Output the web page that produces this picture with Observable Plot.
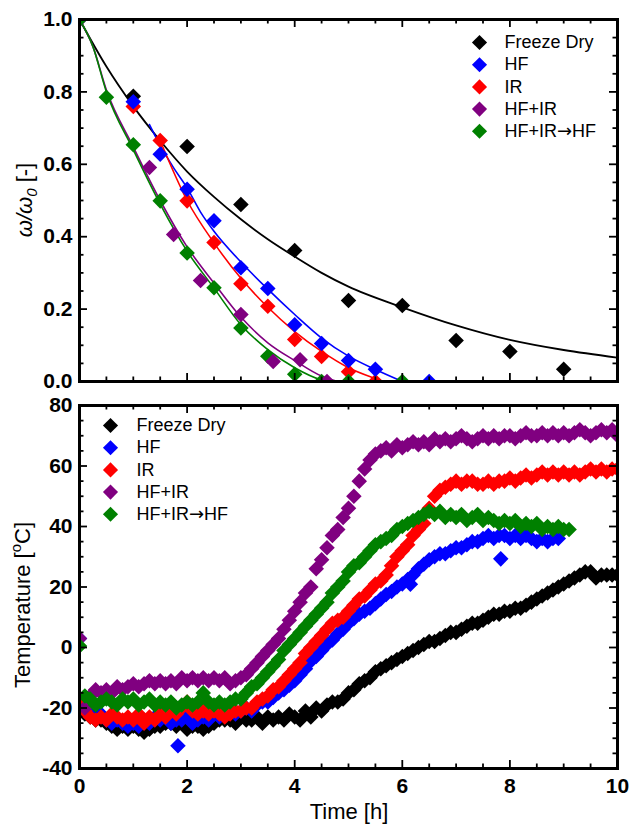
<!DOCTYPE html>
<html>
<head>
<meta charset="utf-8">
<script src="https://cdn.jsdelivr.net/npm/d3@7"></script>
<script src="https://cdn.jsdelivr.net/npm/@observablehq/plot@0.6"></script>
<style>
html, body { margin: 0; padding: 0; background: #fff; }
#chart { width: 631px; }
#chart svg { display: block; }
</style>
</head>
<body>
<div id="chart"></div>
<script>
// ---------- series names & colours ----------
const seriesNames = ["Freeze Dry", "HF", "IR", "HF+IR", "HF+IR\u2192HF"];
const seriesColors = ["#000000", "#0000ff", "#ff0000", "#800080", "#008000"];

// ---------- top panel: moisture ratio (measured points) ----------
const mrFreezeTime = [0, 1, 2, 3, 4, 5, 6, 7, 8, 9];
const mrFreeze = [1.0, 0.788, 0.649, 0.489, 0.362, 0.224, 0.21, 0.113, 0.083, 0.034];
const mrHFTime = [0, 1, 1.5, 2, 2.5, 3, 3.5, 4, 4.5, 5, 5.5, 6.5];
const mrHF = [1.0, 0.773, 0.628, 0.531, 0.444, 0.314, 0.257, 0.157, 0.105, 0.058, 0.034, 0.0];
const mrIRTime = [0, 1, 1.5, 2, 2.5, 3, 3.5, 4, 4.5, 5, 5.5];
const mrIR = [1.0, 0.76, 0.666, 0.499, 0.384, 0.27, 0.208, 0.116, 0.069, 0.027, 0.0];
const mrHFIRTime = [1.3, 1.75, 2.25, 3, 3.6, 4.1, 4.6];
const mrHFIR = [0.591, 0.406, 0.279, 0.185, 0.055, 0.06, 0.0];
const mrSeqTime = [0, 0.5, 1, 1.5, 2, 2.5, 3, 3.5, 4, 4.5, 5, 6];
const mrSeq = [1.0, 0.785, 0.654, 0.499, 0.355, 0.259, 0.148, 0.07, 0.02, 0.0, 0.0, 0.0];

// ---------- top panel: fitted curves ----------
const fitFreezeTime = [0, 0.5, 1, 1.5, 2, 2.5, 3, 3.5, 4, 4.5, 5, 6, 7, 8, 9, 10];
const fitFreeze = [1.0, 0.87, 0.76, 0.665, 0.58, 0.51, 0.448, 0.393, 0.345, 0.30, 0.262, 0.205, 0.155, 0.115, 0.087, 0.066];
const fitHFTime = [1.3, 1.5, 1.75, 2, 2.25, 2.5, 3, 3.5, 4, 4.5, 5, 5.5, 6];
const fitHF = [0.71, 0.652, 0.59, 0.535, 0.468, 0.415, 0.33, 0.255, 0.185, 0.12, 0.07, 0.033, 0.0];
const fitIRTime = [1.5, 2, 2.5, 3, 3.5, 4, 4.5, 5, 5.5, 5.65];
const fitIR = [0.665, 0.50, 0.383, 0.285, 0.205, 0.138, 0.083, 0.038, 0.008, 0.0];
const fitHFIRTime = [0, 0.25, 0.5, 1, 1.5, 2, 2.5, 3, 3.5, 4, 4.5, 4.8];
const fitHFIR = [1.0, 0.925, 0.805, 0.648, 0.50, 0.372, 0.272, 0.178, 0.107, 0.058, 0.015, 0.0];
const fitSeqTime = [0, 0.25, 0.5, 1, 1.5, 2, 2.5, 3, 3.5, 4, 4.5, 4.6];
const fitSeq = [1.0, 0.925, 0.80, 0.64, 0.49, 0.36, 0.258, 0.157, 0.088, 0.038, 0.004, 0.0];

// ---------- bottom panel: temperature ----------
const tempTime = [0,0.1,0.2,0.3,0.4,0.5,0.6,0.7,0.8,0.9,1,1.1,1.2,1.3,1.4,1.5,1.6,1.7,1.8,1.9,2,2.1,2.2,2.3,2.4,2.5,2.6,2.7,2.8,2.9,3,3.1,3.2,3.3,3.4,3.5,3.6,3.7,3.8,3.9,4,4.1,4.2,4.3,4.4,4.5,4.6,4.7,4.8,4.9,5,5.1,5.2,5.3,5.4,5.5,5.6,5.7,5.8,5.9,6,6.1,6.2,6.3,6.4,6.5,6.6,6.7,6.8,6.9,7,7.1,7.2,7.3,7.4,7.5,7.6,7.7,7.8,7.9,8,8.1,8.2,8.3,8.4,8.5,8.6,8.7,8.8,8.9,9,9.1,9.2,9.3,9.4,9.5,9.6,9.7,9.8,9.9,10];
const tempFreeze = [-19,-22,-23,-24,-24,-25,-26,-27,-26,-27,
 -26,-27,-28,-27,-26,-26,-25,-25,-26,-25,
 -27,-26,-26,-27,-26,-25,-24,-24,-24,-25,
 -23,-24,-24,-23,-25,-23,-24,-23,-24,-22,
 -23,-24,-21,-23,-20,-21,-19,-18,-18,-17,
 -15,-14,-12,-11,-10,-8,-7,-6,-5,-4,
 -3,-2,-1,0,1,2,2,3,4,5,
 5,6,7,8,8,9,10,11,11,12,
 12,13,13,14,15,16,17,18,19,20,
 21,22,23,24,25,25,23,24,24,24,
 24];
const tempHF = [3,-20,-22,-23,-22,-24,-25,-24,-25,-26,
 -25,-26,-24,-25,-23,-24,-23,-25,-24,-24,
 -23,-25,-24,-23,-24,-22,-23,-22,-21,-22,
 -21,-20,-21,-19,-18,-18,-16.5,-15,-14,-12.5,
 -11,-9,-7,-4.5,-3,-1,1,2.5,4.5,6,
 8,9.5,11,12,13,14.5,16,17.5,18.5,20,
 21,22.5,24,26,27.5,29,30,31,31,32,
 33,33,34,35,35,36,37,36,37,37,
 36,37,36,37,36,35,36,35,36,36];
const tempHFOutlierTime = [1.83, 6.15, 7.83];
const tempHFOutlier = [-32.5, 20.9, 29.3];
const tempIR = [-19,-21,-23,-24,-23,-24,-22,-23,-24,-23,
 -24,-22,-25,-23,-24,-22,-23,-21,-22,-20,
 -18,-21,-22,-21,-22,-21,-22,-23,-22,-21,
 -21,-20,-20,-18,-17,-16,-14,-13,-11,-9,
 -7,-5,-2,0,2,4,6,8,9,10,
 12,14,16,17,19,21,22,24,27,30,
 32,34,37,39,41,46,50,52,53,54,
 55,54,55,55,54,54,55,54,55,55,
 56,55,56,57,56,57,58,57,58,57,
 58,57,58,57,58,59,58,59,58,59,
 59];
const tempHFIR = [3,-20,-16,-14,-15,-14,-15,-13,-14,-13,
 -12,-13,-12,-11,-12,-11,-12,-11,-12,-10,
 -11,-10,-11,-10,-11,-10,-11,-10,-12,-11,
 -10,-9,-7,-5,-3,-1,1,3,6,9,
 12,15,18,20,26,29,33,37,39,43,
 46,50,55,59,62,64,65,66,65,67,
 66,67,68,67,68,67,69,68,69,68,
 69,70,69,68,69,70,69,70,69,70,
 70,69,70,71,70,70,71,70,71,70,
 71,70,71,72,71,70,71,72,71,72,
 70];
const tempSeq = [0.5,-16,-17,-19,-18,-17,-18,-19,-17,-18,
 -17,-19,-18,-17,-19,-18,-19,-18,-20,-19,
 -18,-19,-18,-15,-18,-19,-18,-19,-18,-17,
 -17,-15,-13,-12,-10,-8,-6,-4,-1,1,
 3,5,7,9,11,13,15,18,20,22,
 25,27,28,30,32,34,35,36,37,39,
 40,41,42,43,44,45,44,45,43,44,
 43,44,42,43,44,42,43,42,41,42,
 41,42,40,41,40,41,39,40,39,40,
 39,39];

// ---------- ticks ----------
const xMajorTicks = [0, 2, 4, 6, 8, 10];
const xMinorTicks = [0.5,1,1.5,2.5,3,3.5,4.5,5,5.5,6.5,7,7.5,8.5,9,9.5];
const mrMajorTicks = [0, 0.2, 0.4, 0.6, 0.8, 1.0];
const mrMinorTicks = [0.05,0.1,0.15,0.25,0.3,0.35,0.45,0.5,0.55,0.65,0.7,0.75,0.85,0.9,0.95];
const tempMajorTicks = [-40, -20, 0, 20, 40, 60, 80];
const tempMinorTicks = [-35,-30,-25,-15,-10,-5,5,10,15,25,30,35,45,50,55,65,70,75];

// ---------- helpers ----------
const FONT = "Arial, 'Liberation Sans', Helvetica, sans-serif";
const diamond = {
  draw(context, size) {
    const r = Math.sqrt(size) * 0.62625;
    context.moveTo(0, -r); context.lineTo(r, 0); context.lineTo(0, r); context.lineTo(-r, 0); context.closePath();
  }
};
const rows = (times, values) => values.map((v, i) => ({t: times[i], v}));

// inward ticks on all four sides; W/H = frame width/height in px
function boxTicks(xMaj, xMin, yMaj, yMin, W, H) {
  const s = {stroke: "black", strokeWidth: 1.8};
  const out = [];
  for (const [ticks, len] of [[xMin, 4.5], [xMaj, 8]]) {
    out.push(Plot.tickX(ticks, {x: d => d, insetTop: H - len, ...s}));
    out.push(Plot.tickX(ticks, {x: d => d, insetBottom: H - len, ...s}));
  }
  for (const [ticks, len] of [[yMin, 4.5], [yMaj, 8]]) {
    out.push(Plot.tickY(ticks, {y: d => d, insetRight: W - len, ...s}));
    out.push(Plot.tickY(ticks, {y: d => d, insetLeft: W - len, ...s}));
  }
  return out;
}

function legendMarks(dxMarker, dxText, dy0, step) {
  const out = [];
  seriesNames.forEach((name, i) => {
    out.push(Plot.dot([name], {x: null, y: null, frameAnchor: "top-left", dx: dxMarker, dy: dy0 + i * step,
      symbol: diamond, r: 6.8, fill: seriesColors[i]}));
    out.push(Plot.text([name], {x: null, y: null, frameAnchor: "top-left", dx: dxText, dy: dy0 + i * step,
      text: d => d, textAnchor: "start", lineAnchor: "middle", fontSize: 18, fill: "black"}));
  });
  return out;
}

const style = {fontFamily: FONT, fontSize: "18px", color: "black", background: "white", overflow: "visible"};

// ---------- top plot ----------
const mrPoints = [
  [mrFreezeTime, mrFreeze, 0],
  [mrIRTime, mrIR, 2],
  [mrHFTime, mrHF, 1],
  [mrSeqTime, mrSeq, 4],
  [mrHFIRTime, mrHFIR, 3]
];
const mrFits = [
  [fitFreezeTime, fitFreeze, 0, 1.8],
  [fitHFTime, fitHF, 1, 1.6],
  [fitIRTime, fitIR, 2, 1.6],
  [fitHFIRTime, fitHFIR, 3, 1.6],
  [fitSeqTime, fitSeq, 4, 1.6]
];

const topPlot = Plot.plot({
  width: 631, height: 395,
  marginLeft: 79, marginRight: 14, marginTop: 19, marginBottom: 14,
  x: {domain: [0, 10], axis: null},
  y: {domain: [0, 1], axis: null},
  style,
  marks: [
    ...mrFits.map(([t, v, c, w]) => Plot.line(rows(t, v), {x: "t", y: "v", stroke: seriesColors[c], strokeWidth: w, curve: "monotone-x", clip: true})),
    ...mrPoints.map(([t, v, c]) => Plot.dot(rows(t, v), {x: "t", y: "v", symbol: diamond, r: 7, fill: seriesColors[c], clip: true})),
    ...legendMarks(400, 425, 23, 22.2),
    Plot.axisY(mrMajorTicks, {anchor: "left", tickSize: 0, tickPadding: 7, tickFormat: d => d.toFixed(1), fontSize: 21, fontWeight: "bold", label: null}),
    ...boxTicks(xMajorTicks, xMinorTicks, mrMajorTicks, mrMinorTicks, 538, 362),
    Plot.frame({stroke: "black", strokeWidth: 3})
  ]
});

// ---------- bottom plot ----------
const tempSeries = [
  [tempTime, tempFreeze, 0],
  [tempTime, tempHF, 1],
  [tempHFOutlierTime, tempHFOutlier, 1],
  [tempTime, tempIR, 2],
  [tempTime, tempHFIR, 3],
  [tempTime, tempSeq, 4]
];

const botPlot = Plot.plot({
  width: 631, height: 431,
  marginLeft: 79, marginRight: 14, marginTop: 10, marginBottom: 58,
  x: {domain: [0, 10], axis: null},
  y: {domain: [-40, 80], axis: null},
  style,
  marks: [
    ...tempSeries.map(([t, v, c]) => Plot.dot(rows(t, v), {x: "t", y: "v", symbol: diamond, r: 7, fill: seriesColors[c], clip: true})),
    ...legendMarks(31, 57, 20, 22.2),
    Plot.axisY(tempMajorTicks, {anchor: "left", tickSize: 0, tickPadding: 7, tickFormat: d => String(d), fontSize: 21, fontWeight: "bold", label: null}),
    Plot.axisX(xMajorTicks, {anchor: "bottom", tickSize: 0, tickPadding: 10, tickFormat: d => String(d), fontSize: 21, fontWeight: "bold", label: null}),
    ...boxTicks(xMajorTicks, xMinorTicks, tempMajorTicks, tempMinorTicks, 538, 363),
    Plot.frame({stroke: "black", strokeWidth: 3})
  ]
});

// ---------- the arrow in the legend: use a font with a full-size arrow ----------
for (const svg of [topPlot, botPlot]) {
  d3.select(svg).selectAll("text").each(function () {
    const s = this.textContent;
    if (s.includes("\u2192")) {
      const [a, b] = s.split("\u2192");
      const sel = d3.select(this);
      sel.text(null);
      sel.append("tspan").text(a);
      sel.append("tspan").attr("font-family", "'DejaVu Sans'").attr("font-weight", "normal").text("\u2192");
      sel.append("tspan").text(b);
    }
  });
}

// ---------- axis titles (rich text) ----------
const tTop = d3.select(topPlot).append("text")
  .attr("transform", "translate(32,200) rotate(-90)")
  .attr("text-anchor", "middle")
  .attr("font-family", FONT).attr("font-size", 22).attr("fill", "black");
tTop.append("tspan").attr("font-style", "italic").text("\u03c9/\u03c9");
tTop.append("tspan").attr("font-style", "italic").attr("font-size", 15).attr("dy", 5).text("0");
tTop.append("tspan").attr("dy", -5).text(" [-]");

const tBot = d3.select(botPlot).append("text")
  .attr("transform", "translate(30,210) rotate(-90)")
  .attr("text-anchor", "middle")
  .attr("font-family", FONT).attr("font-size", 22).attr("fill", "black");
tBot.append("tspan").text("Temperature [");
tBot.append("tspan").attr("font-size", 15).attr("dy", -9).text("o");
tBot.append("tspan").attr("dy", 9).text("C]");

d3.select(botPlot).append("text")
  .attr("x", 349).attr("y", 424)
  .attr("text-anchor", "middle")
  .attr("font-family", FONT).attr("font-size", 22).attr("fill", "black")
  .text("Time [h]");

const chart = document.getElementById("chart");
chart.appendChild(topPlot);
chart.appendChild(botPlot);
</script>
</body>
</html>
